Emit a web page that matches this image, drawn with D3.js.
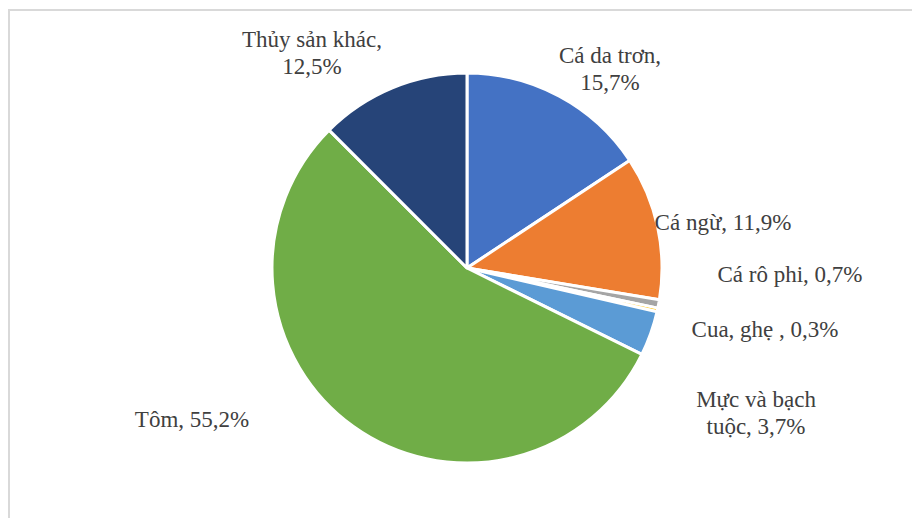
<!DOCTYPE html>
<html>
<head>
<meta charset="utf-8">
<script src="https://cdn.jsdelivr.net/npm/d3@7"></script>
<style>
  html, body { margin: 0; padding: 0; background: #fff; }
  svg { display: block; }
  .lbl { font-family: "Liberation Serif", "Times New Roman", "DejaVu Serif", serif; }
</style>
</head>
<body>
<svg id="chart" width="912" height="518"></svg>
<script>
// Export share by product group (%)
const categories = ["Cá da trơn", "Cá ngừ", "Cá rô phi", "Cua, ghẹ ", "Mực và bạch tuộc", "Tôm", "Thủy sản khác"];
const shares = [15.7, 11.9, 0.7, 0.3, 3.7, 55.2, 12.5];
const colors = ["#4472C4", "#ED7D31", "#A5A5A5", "#FFC000", "#5B9BD5", "#70AD47", "#264478"];

// Label text lines (category, value) as drawn beside each slice
const labelLines = [
  ["Cá da trơn,", "15,7%"],
  ["Cá ngừ, 11,9%"],
  ["Cá rô phi, 0,7%"],
  ["Cua, ghẹ , 0,3%"],
  ["Mực và bạch", "tuộc, 3,7%"],
  ["Tôm, 55,2%"],
  ["Thủy sản khác,", "12,5%"]
];
// Label anchor (centre x, first baseline y) relative to the pie centre
const labelAnchors = [
  [143, -205], [256, -38], [323, 14], [298, 69], [289, 139], [-275, 159], [-155, -221]
];

const W = 912, H = 518;
const cx = 467, cy = 268, R = 195;
const svg = d3.select("#chart");

// Chart area frame
svg.append("rect")
  .attr("x", 9).attr("y", 10)
  .attr("width", W).attr("height", H)
  .attr("fill", "none")
  .attr("stroke", "#d9d9d9")
  .attr("stroke-width", 2);

const pie = d3.pie().sort(null).value(d => d)(shares);
const arc = d3.arc().innerRadius(0).outerRadius(R);

const g = svg.append("g").attr("transform", `translate(${cx},${cy})`);

g.selectAll("path.slice")
  .data(pie)
  .join("path")
  .attr("class", "slice")
  .attr("d", arc)
  .attr("fill", (d, i) => colors[i])
  .attr("stroke", "#ffffff")
  .attr("stroke-width", 3)
  .attr("stroke-linejoin", "round");

const labels = g.selectAll("text.lbl")
  .data(labelLines)
  .join("text")
  .attr("class", "lbl")
  .attr("text-anchor", "middle")
  .attr("font-size", 23)
  .attr("fill", "#404040")
  .attr("transform", (d, i) => `translate(${labelAnchors[i][0]},${labelAnchors[i][1]})`);

labels.selectAll("tspan")
  .data(d => d)
  .join("tspan")
  .attr("x", 0)
  .attr("dy", (d, j) => j === 0 ? 0 : 26.5)
  .text(d => d);
</script>
</body>
</html>
